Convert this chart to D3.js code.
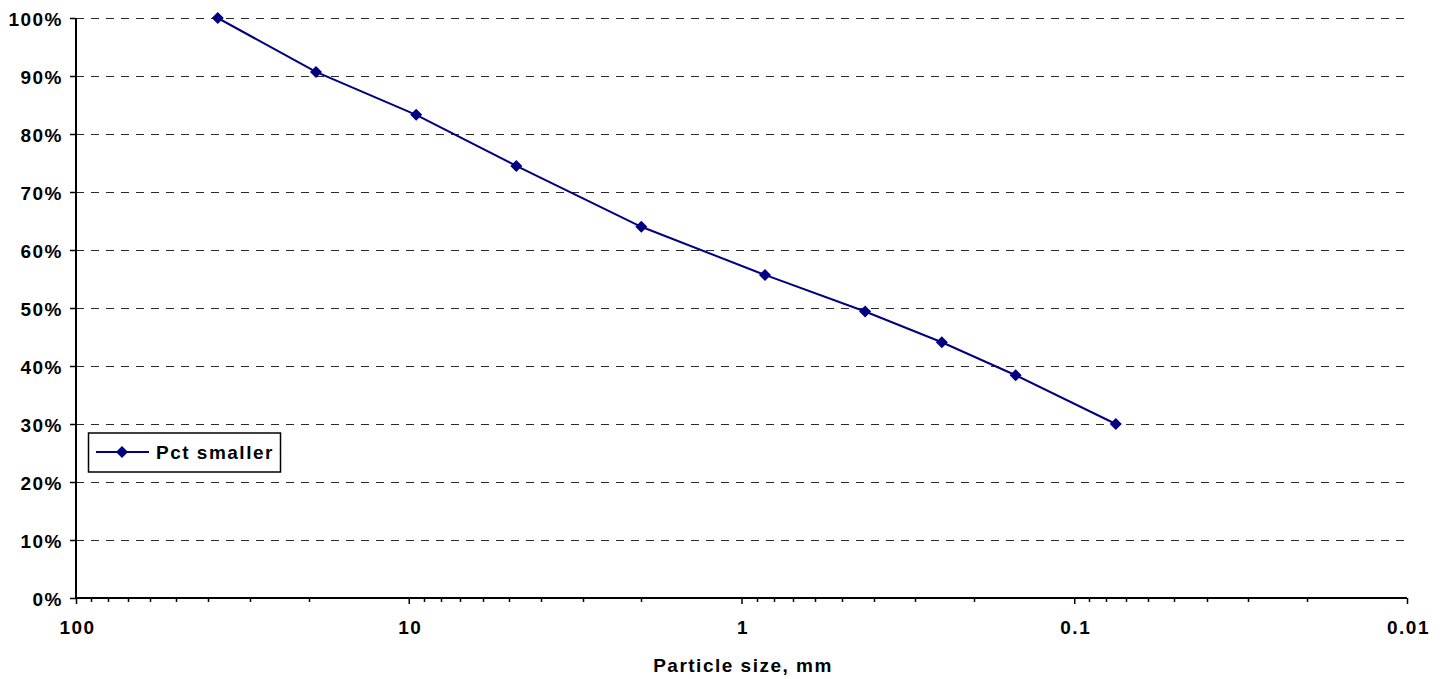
<!DOCTYPE html>
<html>
<head>
<meta charset="utf-8">
<script src="https://cdn.jsdelivr.net/npm/d3@7"></script>
<style>
  html, body { margin: 0; padding: 0; background: #fff; }
  svg { display: block; }
  text { font-family: "Liberation Sans", Arial, sans-serif; font-weight: bold; font-size: 19px; letter-spacing: 1.5px; fill: #000; }
</style>
</head>
<body>
<svg id="chart" width="1444" height="679"></svg>
<script>
// Data
const particleSizes = [37.5, 19, 9.5, 4.75, 2.0, 0.85, 0.425, 0.25, 0.15, 0.075];
const pctSmaller   = [1.000, 0.907, 0.833, 0.745, 0.640, 0.557, 0.494, 0.441, 0.384, 0.300];
const xMajorTicks = [100, 10, 1, 0.1, 0.01];
const xTickLabels = ["100", "10", "1", "0.1", "0.01"];
const yTicks = [0, 0.1, 0.2, 0.3, 0.4, 0.5, 0.6, 0.7, 0.8, 0.9, 1.0];
const seriesName = "Pct smaller";
const xTitle = "Particle size, mm";

(function () {
const svg = d3.select("#chart");
const pLeft = 76, pRight = 1407, pTop = 18, pBottom = 598;
const navy = "#000080";
const fontCss = sel => sel.style("font-size", "19px").style("font-family", "'Liberation Sans', Arial, sans-serif")
  .style("font-weight", "bold").style("letter-spacing", "1.5px").attr("fill", "#000");

const x = d3.scaleLog().domain([100, 0.01]).range([pLeft, pRight]);
const y = d3.scaleLinear().domain([0, 1]).range([pBottom, pTop]);

// Gridlines
svg.append("g").selectAll("line").data(yTicks.filter(d => d > 0)).join("line")
  .attr("x1", pLeft).attr("x2", pRight)
  .attr("y1", d => Math.round(y(d)) + 0.5).attr("y2", d => Math.round(y(d)) + 0.5)
  .attr("stroke", "#2a2a2a").attr("stroke-width", 1.2)
  .attr("stroke-dasharray", "8,7");

// Minor x ticks
const minorTicks = [];
[10, 1, 0.1, 0.01].forEach(dec => { for (let k = 2; k <= 9; k++) minorTicks.push(dec * k); });
svg.append("g").selectAll("line").data(minorTicks).join("line")
  .attr("x1", d => Math.round(x(d)) + 0.5).attr("x2", d => Math.round(x(d)) + 0.5)
  .attr("y1", pBottom).attr("y2", pBottom + 4)
  .attr("stroke", "#000").attr("stroke-width", 1.5);

// X axis
const xAxis = d3.axisBottom(x).tickValues(xMajorTicks)
  .tickFormat((d, i) => xTickLabels[i]).tickSize(6).tickPadding(0);
const gx = svg.append("g").attr("transform", `translate(0,${pBottom})`).call(xAxis);
gx.select(".domain").remove();
gx.selectAll(".tick line").attr("stroke", "#000").attr("stroke-width", 1.5);
gx.selectAll(".tick text")
  .attr("y", null).attr("dy", null)
  .attr("transform", "translate(1,36)")
  .call(fontCss);

// Y axis
const yAxis = d3.axisLeft(y).tickValues(yTicks).tickFormat(d3.format(".0%")).tickSize(6).tickPadding(0);
const gy = svg.append("g").attr("transform", `translate(${pLeft},0)`).call(yAxis);
gy.select(".domain").remove();
gy.selectAll(".tick line").attr("stroke", "#000").attr("stroke-width", 1.5);
gy.selectAll(".tick text")
  .attr("x", -13).attr("dy", null).attr("y", 7)
  .call(fontCss);

// Axis lines
svg.append("line").attr("x1", pLeft).attr("x2", pRight).attr("y1", pBottom).attr("y2", pBottom)
  .attr("stroke", "#000").attr("stroke-width", 2);
svg.append("line").attr("x1", pLeft).attr("x2", pLeft).attr("y1", pTop).attr("y2", pBottom)
  .attr("stroke", "#000").attr("stroke-width", 2);

// Series line
const data = particleSizes.map((s, i) => ({ s, p: pctSmaller[i] }));
svg.append("path").datum(data)
  .attr("fill", "none").attr("stroke", navy).attr("stroke-width", 2)
  .attr("d", d3.line().x(d => x(d.s)).y(d => y(d.p)));

const diamond = "M0,-6L6,0L0,6L-6,0Z";
svg.append("g").selectAll("path").data(data).join("path")
  .attr("d", diamond).attr("fill", navy)
  .attr("transform", d => `translate(${x(d.s)},${y(d.p)})`);

// X title
svg.append("text").attr("x", 743).attr("y", 672).attr("text-anchor", "middle").text(xTitle);

// Legend
const lg = svg.append("g");
lg.append("rect").attr("x", 88.5).attr("y", 433).attr("width", 192).attr("height", 39)
  .attr("fill", "#fff").attr("stroke", "#000").attr("stroke-width", 1.5);
lg.append("line").attr("x1", 96).attr("x2", 149).attr("y1", 452).attr("y2", 452)
  .attr("stroke", navy).attr("stroke-width", 2);
lg.append("path").attr("d", diamond).attr("fill", navy).attr("transform", "translate(122,452)");
lg.append("text").attr("x", 156).attr("y", 459).text(seriesName);
})();
</script>
</body>
</html>
